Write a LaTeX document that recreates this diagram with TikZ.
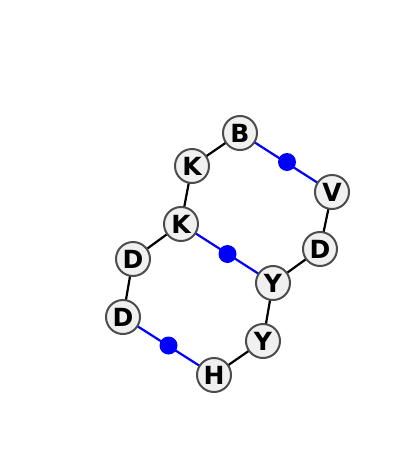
\documentclass[tikz,border=0pt]{standalone}
\usepackage{fontspec}
\setmainfont{DejaVu Sans}
\begin{document}
\begin{tikzpicture}[x=1pt,y=-1pt,
  res/.style={circle,draw=black!70,line width=2pt,fill=black!6,minimum size=34pt,inner sep=0pt,font=\fontsize{25}{25}\selectfont\bfseries},
  bond/.style={line width=2.2pt,black},
  sbond/.style={line width=2.2pt,blue},
  dot/.style={circle,fill=blue,inner sep=0pt,minimum size=18pt}]
\useasboundingbox (0,0) rectangle (400,453);
\coordinate (m1) at (287,162);
\coordinate (m2) at (227.5,254);
\coordinate (m3) at (168.5,345.5);
\draw[bond] (240,133) -- (192,166);
\draw[bond] (192,166) -- (181,224);
\draw[bond] (181,224) -- (133,259);
\draw[bond] (133,259) -- (123,317);
\draw[bond] (332,192) -- (320,249);
\draw[bond] (320,249) -- (273,283);
\draw[bond] (273,283) -- (263,341);
\draw[bond] (263,341) -- (214,375);
\draw[sbond] (240,133) -- (332,192);
\draw[sbond] (181,224) -- (273,283);
\draw[sbond] (123,317) -- (214,375);
\node[dot] (d1) at (m1) {};
\node[dot] (d2) at (m2) {};
\node[dot] (d3) at (m3) {};
\node[res] (B) at (240,133) {B};
\node[res] (K1) at (192,166) {K};
\node[res] (V) at (332,192) {V};
\node[res] (K2) at (181,224) {K};
\node[res] (D1) at (320,249) {D};
\node[res] (D2) at (133,259) {D};
\node[res] (Y1) at (273,283) {Y};
\node[res] (D3) at (123,317) {D};
\node[res] (Y2) at (263,341) {Y};
\node[res] (H) at (214,375) {H};
\end{tikzpicture}
\end{document}
